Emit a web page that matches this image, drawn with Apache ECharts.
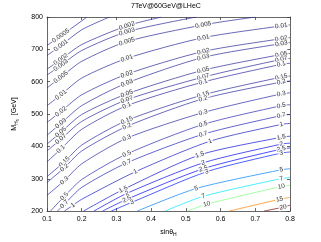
<!DOCTYPE html>
<html><head><meta charset="utf-8">
<script src="https://cdn.jsdelivr.net/npm/echarts@6/dist/echarts.min.js"></script>
<style>html,body{margin:0;padding:0;background:#fff}#c{width:321px;height:242px}</style>
</head><body><div id="c"></div>
<script>
// ---- data ----
const titleText = '7TeV@60GeV@LHeC';
const xTickLabels = ['0.1','0.2','0.3','0.4','0.5','0.6','0.7','0.8'];
const yTickLabels = ['200','300','400','500','600','700','800'];
const levelLabels = ['0.0005','0.001','0.002','0.003','0.005','0.01','0.02','0.03','0.05','0.07','0.1','0.15','0.2','0.3','0.5','0.7','1','1.5','2','2.5','3','5','7','10','15','20'];

// contour lines: [sinθ_H, M_H5]
const c_0_0005 = [[0.1,711.7],[0.14,742.1],[0.2,787.8],[0.215,800]];
const c_0_001  = [[0.1,681.2],[0.14,711.7],[0.2,760.4],[0.28,800]];
const c_0_002  = [[0.1,638.6],[0.14,669.0],[0.2,714.7],[0.33,772.6],[0.43,800]];
const c_0_003  = [[0.1,620.3],[0.14,650.8],[0.2,696.4],[0.33,754.3],[0.53,800]];
const c_0_005  = [[0.1,580.7],[0.14,614.2],[0.2,662.9],[0.33,723.9],[0.55,775.6],[0.7,800]];
const c_0_01   = [[0.1,525.9],[0.14,559.4],[0.2,611.2],[0.33,672.1],[0.55,736.0],[0.775,772.6],[0.8,775.6]];
const c_0_02   = [[0.1,474.1],[0.14,507.6],[0.2,559.4],[0.33,623.3],[0.55,693.4],[0.775,733.0],[0.8,736.0]];
const c_0_03   = [[0.1,434.5],[0.14,471.1],[0.2,525.9],[0.33,595.9],[0.55,675.1],[0.775,717.8],[0.8,720.8]];
const c_0_05   = [[0.1,407.1],[0.14,443.7],[0.2,498.5],[0.33,562.4],[0.55,635.5],[0.775,684.3],[0.8,687.3]];
const c_0_07   = [[0.1,385.8],[0.14,422.4],[0.2,477.2],[0.33,544.2],[0.55,614.2],[0.775,669.0],[0.8,672.1]];
const c_0_1    = [[0.1,352.3],[0.14,391.9],[0.2,452.8],[0.33,525.9],[0.55,599.0],[0.775,653.8],[0.8,656.9]];
const c_0_15   = [[0.1,306.6],[0.15,352.3],[0.2,404.1],[0.33,480.2],[0.55,559.4],[0.775,614.2],[0.8,617.3]];
const c_0_2    = [[0.1,288.3],[0.15,334.0],[0.2,385.8],[0.33,461.9],[0.55,547.2],[0.775,599.0],[0.8,602.0]];
const c_0_3    = [[0.1,248.7],[0.15,294.4],[0.2,346.2],[0.33,425.4],[0.55,504.6],[0.775,562.4],[0.8,565.5]];
const c_0_5    = [[0.11,200],[0.15,245.7],[0.2,297.5],[0.33,376.6],[0.55,468.0],[0.775,525.9],[0.8,528.9]];
const c_0_7    = [[0.13,200],[0.15,221.3],[0.2,273.1],[0.33,349.2],[0.55,437.6],[0.775,495.4],[0.8,498.5]];
const c_1      = [[0.15,200],[0.175,218.3],[0.2,236.5],[0.355,321.8],[0.57,416.2],[0.775,468.0],[0.8,471.1]];
const c_1_5    = [[0.205,200],[0.32,267.0],[0.54,373.6],[0.775,428.4],[0.8,431.5]];
const c_2      = [[0.235,200],[0.33,254.8],[0.55,349.2],[0.775,407.1],[0.8,410.1]];
const c_2_5    = [[0.26,200],[0.33,236.5],[0.55,331.0],[0.775,391.9],[0.8,395.0]];
const c_3      = [[0.285,200],[0.345,227.4],[0.56,321.8],[0.775,379.7],[0.8,382.7]];
const c_5      = [[0.36,200],[0.53,270.0],[0.775,327.9],[0.8,331.0]];
const c_7      = [[0.44,200],[0.55,245.7],[0.775,300.5],[0.8,303.5]];
const c_10     = [[0.505,200],[0.56,221.3],[0.775,276.1],[0.8,279.2]];
const c_15     = [[0.625,200],[0.77,236.5],[0.8,242.6]];
const c_20     = [[0.725,200],[0.78,212.2],[0.8,218.3]];

const contourLines = [c_0_0005,c_0_001,c_0_002,c_0_003,c_0_005,c_0_01,c_0_02,c_0_03,c_0_05,c_0_07,c_0_1,c_0_15,c_0_2,c_0_3,c_0_5,c_0_7,c_1,c_1_5,c_2,c_2_5,c_3,c_5,c_7,c_10,c_15,c_20];
// which points of each line carry an inline label
const labelIndex = [[1],[1],[1,3],[1,3],[1,3,4],[1,3,4,5],[1,3,4,5],[1,3,4,5],[1,3,4,5],[1,3,4,5],[1,3,4,5],[1,3,4,5],[1,3,4,5],[1,3,4,5],[1,3,4,5],[1,3,4,5],[1,3,4,5],[1,2,3],[1,2,3],[1,2,3],[1,2,3],[1,2],[1,2],[1,2],[1],[1]];

// ---- style ----
const lineColors = ['#2a2a96','#2a2a96','#2a2a96','#2a2a96','#2a2a96','#2a2a96','#2a2a96','#2a2a96','#2a2a98','#2a2a9a','#2a2a9c','#2a2a9e','#2a2aa0','#2a2aa4','#2a2aac','#2222b4','#1a1ac0','#1010d2','#0808e8','#0000ff','#001aff','#0080ff','#00e6ff','#80ff80','#ff8000','#800000'];
const FONT = '"Liberation Sans", Arial, Helvetica, sans-serif';
const AX = '#404040';

const chart = echarts.init(document.getElementById('c'), null, {renderer: 'canvas'});
const fmtX = v => xTickLabels.find(t => Math.abs(parseFloat(t) - v) < 1e-6) || '';
const fmtY = v => yTickLabels.find(t => Math.abs(parseFloat(t) - v) < 1e-6) || '';

const xBase = {type:'value', min:0.1, max:0.8, interval:0.1, splitLine:{show:false},
  axisLine:{show:true, onZero:false, lineStyle:{color:AX, width:0.8}},
  axisTick:{show:true, inside:true, length:3, lineStyle:{color:AX, width:0.8}}};
const yBase = {type:'value', min:200, max:800, interval:100, splitLine:{show:false},
  axisLine:{show:true, onZero:false, lineStyle:{color:AX, width:0.8}},
  axisTick:{show:true, inside:true, length:3, lineStyle:{color:AX, width:0.8}}};

const lineSeries = contourLines.map((pts, k) => ({
  type:'line', xAxisIndex:0, yAxisIndex:0, data: pts, showSymbol:false, symbol:'none',
  smooth:0.25, silent:true, z:2, clip:true,
  lineStyle:{color: lineColors[k], width:0.7}
}));

const option = {
  animation:false,
  backgroundColor:'#fff',
  title:{text:titleText, left:131, top:3, padding:0,
    textStyle:{fontFamily:FONT, fontSize:7, fontWeight:'normal', color:'#000'}},
  grid:{left:41, right:31, top:17, bottom:28, containLabel:false},
  xAxis:[
    Object.assign({}, xBase, {position:'bottom',
      axisLabel:{formatter:fmtX, fontFamily:FONT, fontSize:7, color:'#000', margin:4},
      name:'{a|sinθ}{b|H}', nameLocation:'middle', nameGap:11,
      nameTextStyle:{fontFamily:FONT, color:'#000', rich:{
        a:{fontFamily:FONT, fontSize:7, color:'#000', lineHeight:10},
        b:{fontFamily:FONT, fontSize:5, color:'#000', lineHeight:10, padding:[5,0,0,0]}}}}),
    Object.assign({}, xBase, {position:'top', axisLabel:{show:false}})
  ],
  yAxis:[
    Object.assign({}, yBase, {position:'left',
      axisLabel:{formatter:fmtY, fontFamily:FONT, fontSize:7, color:'#000', margin:4},
      name:'{a|M}{b|H}{c|5}{a|  [GeV]}', nameLocation:'middle', nameGap:28,
      nameTextStyle:{fontFamily:FONT, color:'#000', rich:{
        a:{fontFamily:FONT, fontSize:7, color:'#000', lineHeight:10},
        b:{fontFamily:FONT, fontSize:5, color:'#000', lineHeight:10, padding:[5,0,0,0]},
        c:{fontFamily:FONT, fontSize:4, color:'#000', lineHeight:10, padding:[8,0,0,0]}}}}),
    Object.assign({}, yBase, {position:'right', axisLabel:{show:false}})
  ],
  series: lineSeries
};
chart.setOption(option);

// inline contour labels, rotated along the line
const labelData = [];
contourLines.forEach((pts, k) => {
  labelIndex[k].forEach(i => {
    const a = pts[Math.max(0, i - 1)], b = pts[Math.min(pts.length - 1, i + 1)];
    const pa = chart.convertToPixel({xAxisIndex:0, yAxisIndex:0}, a);
    const pb = chart.convertToPixel({xAxisIndex:0, yAxisIndex:0}, b);
    const rot = Math.atan2(-(pb[1] - pa[1]), pb[0] - pa[0]) * 180 / Math.PI;
    labelData.push({value:[pts[i][0], pts[i][1]], name: levelLabels[k], label:{rotate: rot}});
  });
});
chart.setOption({series: lineSeries.concat([{
  type:'scatter', xAxisIndex:0, yAxisIndex:0, data: labelData, symbolSize:0, silent:true, z:5,
  label:{show:true, position:'inside', formatter: p => p.name, fontFamily:FONT, fontSize:6.5,
    color:'#000', backgroundColor:'#fff', padding:[0,1]}
}])});
</script></body></html>
